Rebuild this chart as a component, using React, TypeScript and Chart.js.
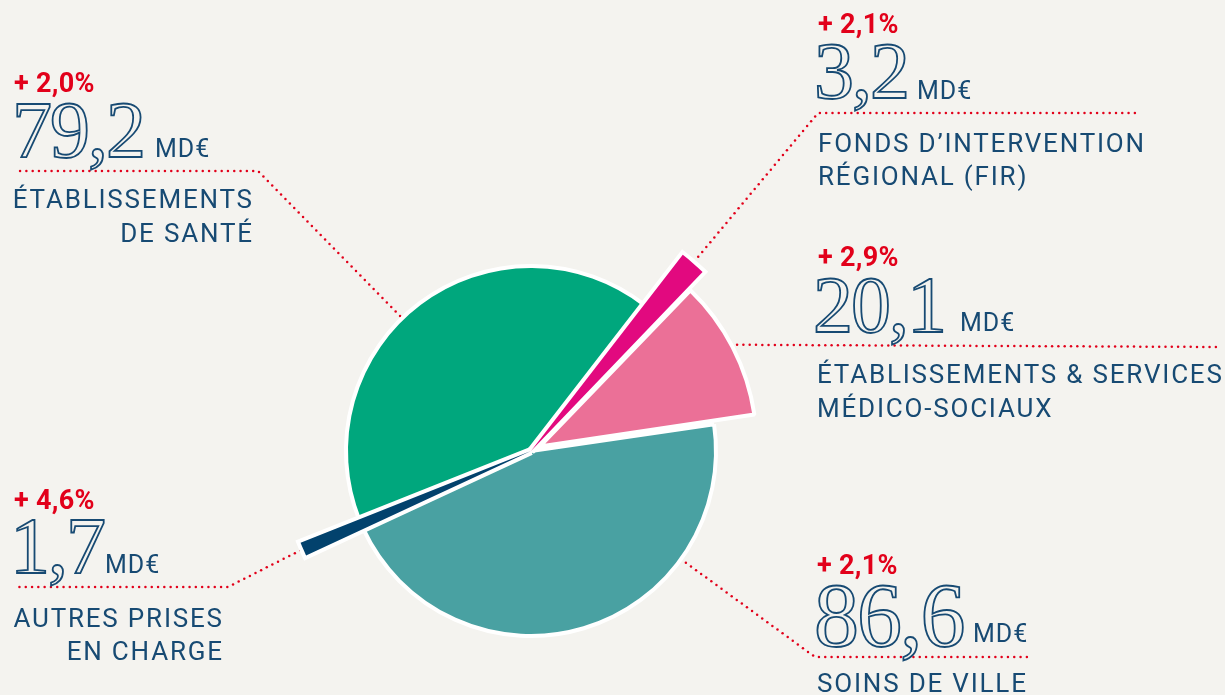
import React, { useEffect, useRef } from 'react';
import { Chart, registerables } from 'chart.js';

Chart.register(...registerables);

// ---------- data ----------
const categories = [
  'ÉTABLISSEMENTS DE SANTÉ',
  'FONDS D’INTERVENTION RÉGIONAL (FIR)',
  'ÉTABLISSEMENTS & SERVICES MÉDICO-SOCIAUX',
  'SOINS DE VILLE',
  'AUTRES PRISES EN CHARGE',
];
const labelLines = [
  ['ÉTABLISSEMENTS', 'DE SANTÉ'],
  ['FONDS D’INTERVENTION', 'RÉGIONAL (FIR)'],
  ['ÉTABLISSEMENTS & SERVICES', 'MÉDICO-SOCIAUX'],
  ['SOINS DE VILLE'],
  ['AUTRES PRISES', 'EN CHARGE'],
];
const amounts = [79.2, 3.2, 20.1, 86.6, 1.7];
const growth = ['+ 2,0%', '+ 2,1%', '+ 2,9%', '+ 2,1%', '+ 4,6%'];
const unit = 'MD€';

// ---------- styles ----------
const W = 1225;
const H = 695;
const CX = 531;
const CY = 451;
const BG = '#f4f3ef';
const NAVY = '#174a73';
const RED = '#e2001a';
const sliceColors = ['#00a77d', '#e2097f', '#eb7097', '#49a1a2', '#02426d'];
const sliceBorder = [4, 0, 4, 4, 0];
const sliceOffset = [0, 0, 40, 0, 0];
const sliceRadius = [185, 248, 213, 185, 248];
const haloSlices = [1, 4];

const leaders = [
  { frac: 0.452, gap: 3, pts: [[258, 171], [14, 171]] },
  { frac: 0.5, gap: 2, pts: [[818, 113], [1140, 113]] },
  { frac: 0.5, gap: 5, pts: [[1222, 347]] },
  { frac: 0.27, gap: 6, pts: [[815, 657], [1032, 657]] },
  { frac: 0.5, gap: 3, pts: [[228, 587], [14, 587]] },
];

const textLayout = [
  { pctX: 14, pctY: 93, numX: 12, numY: 157, numSize: 80, unitX: 155, unitY: 157, lblX: 252, right: true, lblY: [208, 242] },
  { pctX: 818, pctY: 34, numX: 814, numY: 98, numSize: 80, unitX: 917, unitY: 99, lblX: 818, right: false, lblY: [152, 185] },
  { pctX: 818, pctY: 267, numX: 813, numY: 332, numSize: 80, unitX: 960, unitY: 331, lblX: 817, right: false, lblY: [383, 417] },
  { pctX: 817, pctY: 575, numX: 814, numY: 647, numSize: 90, unitX: 973, unitY: 642, lblX: 817, right: false, lblY: [692] },
  { pctX: 14, pctY: 510, numX: 10, numY: 573, numSize: 80, unitX: 105, unitY: 573, lblX: 222, right: true, lblY: [627, 660] },
];

const fmt = (v: number) => v.toFixed(1).replace('.', ',');

function anchorPoint(el: any, frac: number, gap: number) {
  const { x, y, startAngle, endAngle, outerRadius } = el;
  const offs = ((el.options && el.options.offset) || 0) / 4;
  const mid = (startAngle + endAngle) / 2;
  const circ = endAngle - startAngle;
  const fix = 1 - Math.sin(Math.min(Math.PI, circ));
  const r = outerRadius + offs * fix + gap;
  const a = startAngle + frac * (endAngle - startAngle);
  return [x + Math.cos(mid) * offs + Math.cos(a) * r, y + Math.sin(mid) * offs + Math.sin(a) * r];
}

function dottedPath(ctx: CanvasRenderingContext2D, pts: number[][], step: number, rad: number) {
  let carry = 0;
  for (let i = 0; i < pts.length - 1; i++) {
    const [x0, y0] = pts[i];
    const [x1, y1] = pts[i + 1];
    const len = Math.hypot(x1 - x0, y1 - y0);
    const ux = (x1 - x0) / len;
    const uy = (y1 - y0) / len;
    let t = carry;
    while (t <= len) {
      ctx.beginPath();
      ctx.arc(x0 + ux * t, y0 + uy * t, rad, 0, Math.PI * 2);
      ctx.fill();
      t += step;
    }
    carry = t - len;
  }
}

const piePlugin = {
  id: 'piePlugin',
  beforeDatasetsDraw(chart: any) {
    const meta = chart.getDatasetMeta(0);
    meta.data.forEach((el: any, i: number) => {
      el.outerRadius = sliceRadius[i];
    });
    const ctx = chart.ctx as CanvasRenderingContext2D;
    ctx.save();
    ctx.fillStyle = RED;
    leaders.forEach((ld, i) => {
      const el = meta.data[i];
      const a = anchorPoint(el, ld.frac, ld.gap);
      dottedPath(ctx, [a, ...ld.pts], 6.3, 1.25);
    });
    ctx.restore();
  },
  afterDatasetsDraw(chart: any) {
    const meta = chart.getDatasetMeta(0);
    const ctx = chart.ctx as CanvasRenderingContext2D;
    haloSlices.forEach((i) => {
      const el = meta.data[i];
      ctx.save();
      ctx.beginPath();
      ctx.moveTo(el.x, el.y);
      ctx.arc(el.x, el.y, el.outerRadius, el.startAngle, el.endAngle);
      ctx.closePath();
      ctx.lineWidth = 8;
      ctx.strokeStyle = '#ffffff';
      ctx.lineJoin = 'miter';
      ctx.miterLimit = 2;
      ctx.stroke();
      ctx.restore();
      el.draw(ctx);
    });
  },
};

const sans = 'Roboto, "Noto Sans", sans-serif';
const serif = '"Liberation Serif", "DejaVu Serif", serif';

function T(props: { x: number; base: number; size: number; right?: boolean; style?: any; ls?: number; children: any }) {
  const { x, base, size, right, style, ls = 0, children } = props;
  const top = base - 0.84 * size;
  const pos: any = right ? { right: W - x - ls, textAlign: 'right' } : { left: x };
  return (
    <div
      style={{
        position: 'absolute',
        top,
        ...pos,
        fontSize: size,
        lineHeight: `${size}px`,
        whiteSpace: 'nowrap',
        letterSpacing: ls,
        ...style,
      }}
    >
      {children}
    </div>
  );
}

export default function App() {
  const ref = useRef<HTMLCanvasElement>(null);
  useEffect(() => {
    const canvas = ref.current as HTMLCanvasElement;
    const chart = new Chart(canvas, {
      type: 'pie',
      data: {
        labels: categories,
        datasets: [
          {
            data: amounts,
            backgroundColor: sliceColors,
            borderColor: '#ffffff',
            borderWidth: sliceBorder,
            offset: sliceOffset,
            rotation: 248.3,
            clip: false,
          } as any,
        ],
      },
      options: {
        responsive: false,
        animation: false,
        devicePixelRatio: 1,
        events: [],
        rotation: 248.3,
        radius: 185,
        layout: { padding: { left: 0, right: W - 2 * CX, top: 2 * CY - H, bottom: 0 } },
        plugins: { legend: { display: false }, tooltip: { enabled: false } },
      } as any,
      plugins: [piePlugin as any],
    });
    return () => chart.destroy();
  }, []);

  return (
    <div style={{ position: 'fixed', left: 0, top: 0, width: W, height: H, background: BG, overflow: 'hidden' }}>
      <canvas ref={ref} width={W} height={H} style={{ position: 'absolute', left: 0, top: 0 }} />
      {textLayout.map((t, i) => (
        <React.Fragment key={i}>
          <T x={t.pctX} base={t.pctY} size={27} ls={0.3} style={{ fontFamily: sans, fontWeight: 700, color: RED }}>
            {growth[i]}
          </T>
          <T
            x={t.numX}
            base={t.numY}
            size={t.numSize}
            ls={-2}
            style={{ fontFamily: serif, color: BG, WebkitTextStroke: `1.8px ${NAVY}` }}
          >
            {fmt(amounts[i])}
          </T>
          <T x={t.unitX} base={t.unitY} size={25} ls={1} style={{ fontFamily: sans, color: NAVY }}>
            {unit}
          </T>
          {labelLines[i].map((line, k) => (
            <T key={k} x={t.lblX} base={t.lblY[k]} size={26} ls={1.8} right={t.right} style={{ fontFamily: sans, color: NAVY }}>
              {line}
            </T>
          ))}
        </React.Fragment>
      ))}
    </div>
  );
}
